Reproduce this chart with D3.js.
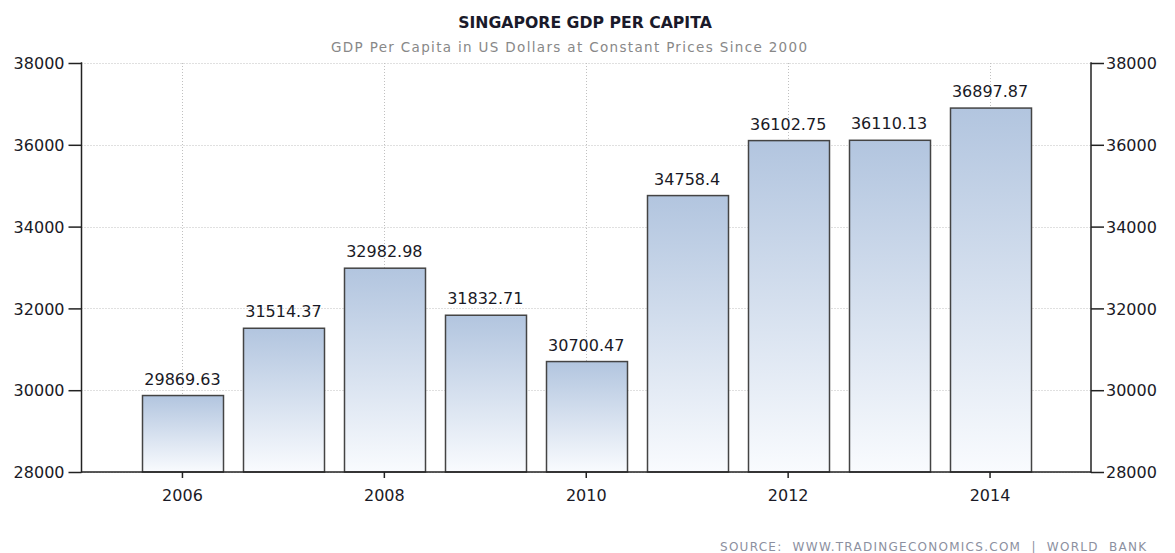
<!DOCTYPE html>
<html>
<head>
<meta charset="utf-8">
<script src="https://cdn.jsdelivr.net/npm/d3@7"></script>
<style>
  html, body { margin: 0; padding: 0; background: #fff; }
  svg { display: block; }
  text { font-family: "DejaVu Sans", Verdana, sans-serif; }
</style>
</head>
<body>
<svg id="chart" width="1175" height="553"></svg>
<script>
const years = [2006, 2007, 2008, 2009, 2010, 2011, 2012, 2013, 2014];
const gdpPerCapita = [29869.63, 31514.37, 32982.98, 31832.71, 30700.47, 34758.4, 36102.75, 36110.13, 36897.87];
const yTicks = [28000, 30000, 32000, 34000, 36000, 38000];
const xTickYears = [2006, 2008, 2010, 2012, 2014];
const title = "SINGAPORE GDP PER CAPITA";
const subtitle = "GDP Per Capita in US Dollars at Constant Prices Since 2000";
const source = "SOURCE:  WWW.TRADINGECONOMICS.COM  |  WORLD  BANK";

const svg = d3.select("#chart");
const plotLeft = 81.5, plotRight = 1091, plotTop = 63, plotBottom = 472;

const x = d3.scaleBand().domain(years).range([plotLeft, plotRight]).paddingInner(0.2).paddingOuter(0.6);
const y = d3.scaleLinear().domain([28000, 38000]).range([plotBottom, plotTop]);

const defs = svg.append("defs");
const grad = defs.append("linearGradient").attr("id", "barGrad")
  .attr("x1", 0).attr("y1", 0).attr("x2", 0).attr("y2", 1);
grad.append("stop").attr("offset", "0%").attr("stop-color", "#b2c5df");
grad.append("stop").attr("offset", "100%").attr("stop-color", "#f9fbfe");

// gridlines
const grid = svg.append("g");
grid.selectAll("line.h").data(yTicks).join("line")
  .attr("x1", plotLeft).attr("x2", plotRight)
  .attr("y1", d => Math.round(y(d)) + 0.5).attr("y2", d => Math.round(y(d)) + 0.5)
  .attr("stroke", "#c0c0c0").attr("stroke-dasharray", "1,2");
grid.selectAll("line.v").data(xTickYears).join("line")
  .attr("x1", d => Math.round(x(d) + x.bandwidth() / 2) + 0.5)
  .attr("x2", d => Math.round(x(d) + x.bandwidth() / 2) + 0.5)
  .attr("y1", plotTop).attr("y2", plotBottom)
  .attr("stroke", "#c0c0c0").attr("stroke-dasharray", "1,2");

// bars
svg.append("g").selectAll("rect").data(years).join("rect")
  .attr("x", d => Math.round(x(d)) + 0.5)
  .attr("y", (d, i) => y(gdpPerCapita[i]))
  .attr("width", Math.round(x.bandwidth()))
  .attr("height", (d, i) => plotBottom - y(gdpPerCapita[i]))
  .attr("fill", "url(#barGrad)")
  .attr("stroke", "#444").attr("stroke-width", 1.5);

// value labels
svg.append("g").selectAll("text").data(years).join("text")
  .attr("x", d => x(d) + x.bandwidth() / 2)
  .attr("y", (d, i) => y(gdpPerCapita[i]) - 11)
  .attr("text-anchor", "middle")
  .attr("font-size", 16).attr("fill", "#1a1a26")
  .text((d, i) => String(gdpPerCapita[i]));

// axes
const axisColor = "#222";
const leftAxis = svg.append("g").attr("transform", `translate(${plotLeft},0)`)
  .call(d3.axisLeft(y).tickValues(yTicks).tickSize(13).tickPadding(4).tickFormat(d3.format("d")));
const rightAxis = svg.append("g").attr("transform", `translate(${plotRight},0)`)
  .call(d3.axisRight(y).tickValues(yTicks).tickSize(13).tickPadding(2).tickFormat(d3.format("d")));
const bottomAxis = svg.append("g").attr("transform", `translate(0,${plotBottom})`)
  .call(d3.axisBottom(x).tickValues(xTickYears).tickSize(6).tickPadding(9).tickFormat(d3.format("d")));

[leftAxis, rightAxis, bottomAxis].forEach(g => {
  g.select(".domain").remove();
  g.selectAll(".tick line").attr("stroke", axisColor).attr("stroke-width", 1.5);
  g.selectAll(".tick text").attr("font-size", 16).attr("fill", "#1a1a26")
    .attr("font-family", "DejaVu Sans, sans-serif");
});
leftAxis.selectAll(".tick text").attr("dy", "0.36em");
rightAxis.selectAll(".tick text").attr("dy", "0.36em");
bottomAxis.selectAll(".tick text").attr("dy", "0.9em");

// axis lines
svg.append("line").attr("x1", plotLeft).attr("x2", plotLeft).attr("y1", plotTop - 0.75).attr("y2", plotBottom + 0.75)
  .attr("stroke", axisColor).attr("stroke-width", 1.5);
svg.append("line").attr("x1", plotRight).attr("x2", plotRight).attr("y1", plotTop - 0.75).attr("y2", plotBottom + 0.75)
  .attr("stroke", axisColor).attr("stroke-width", 1.5);
svg.append("line").attr("x1", plotLeft).attr("x2", plotRight).attr("y1", plotBottom).attr("y2", plotBottom)
  .attr("stroke", axisColor).attr("stroke-width", 1.5);

// titles
svg.append("text").attr("x", 585).attr("y", 28).attr("text-anchor", "middle")
  .attr("font-size", 15.7).attr("font-weight", "bold").attr("fill", "#1a1a2a").text(title);
svg.append("text").attr("x", 331).attr("y", 52).attr("text-anchor", "start")
  .attr("font-size", 13.5).attr("fill", "#888")
  .attr("textLength", 476).attr("lengthAdjust", "spacing").text(subtitle);

svg.append("text").attr("x", 1146).attr("y", 551).attr("text-anchor", "end")
  .attr("font-size", 12).attr("fill", "#8c90a0")
  .attr("textLength", 426).attr("lengthAdjust", "spacing")
  .style("white-space", "pre").text(source);
</script>
</body>
</html>
